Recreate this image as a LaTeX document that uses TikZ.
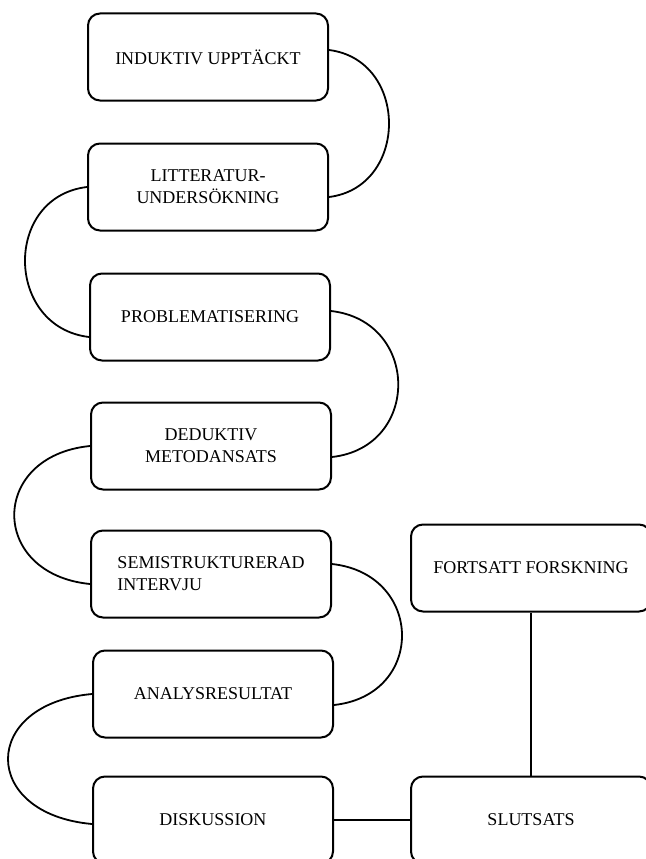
\documentclass[tikz,border=0pt]{standalone}
\usepackage{fontspec}
\setmainfont{Liberation Serif}
\tikzset{
    stage-box/.style = {draw=black, fill=white, line width=2pt, rectangle, rounded corners=12pt, minimum width=240pt, minimum height=87pt, inner sep=0pt, align=center, font=\fontsize{18}{22}\selectfont},
    link/.style = {draw=black, line width=1.8pt},
}

\begin{document}
\begin{tikzpicture}[x=1pt, y=-1pt]
\useasboundingbox (0,0) rectangle (645,859);

\node [stage-box] (induktiv) at (208,57) {INDUKTIV UPPTÄCKT};
\node [stage-box] (litteratur) at (208,187) {LITTERATUR-\\UNDERSÖKNING};
\node [stage-box] (problem) at (210,317) {PROBLEMATISERING};
\node [stage-box] (deduktiv) at (211,446) {DEDUKTIV\\METODANSATS};
\node [stage-box, align=left] (intervju) at (211,574) {SEMISTRUKTURERAD\\INTERVJU};
\node [stage-box] (analys) at (213,694) {ANALYSRESULTAT};
\node [stage-box] (diskussion) at (213,820) {DISKUSSION};
\node [stage-box] (slutsats) at (531,820) {SLUTSATS};
\node [stage-box] (fortsatt) at (531,568) {FORTSATT FORSKNING};

% snake of loops down the left column
\draw [link] ([yshift=7pt]induktiv.east) .. controls +(80,10) and +(80,-10) .. ([yshift=-10pt]litteratur.east);
\draw [link] (litteratur.west) .. controls +(-84,10) and +(-84,-10) .. ([yshift=-20pt]problem.west);
\draw [link] ([yshift=6pt]problem.east) .. controls +(89,10) and +(89,-10) .. ([yshift=-11pt]deduktiv.east);
\draw [link] (deduktiv.west) .. controls +(-101,10) and +(-101,-10) .. ([yshift=-10pt]intervju.west);
\draw [link] ([yshift=10pt]intervju.east) .. controls +(92,10) and +(92,-10) .. ([yshift=-11pt]analys.east);
\draw [link] (analys.west) .. controls +(-112,10) and +(-112,-10) .. ([yshift=-4pt]diskussion.west);

% straight links
\draw [link] (diskussion.east) -- (slutsats.west);
\draw [link] (fortsatt.south) -- (slutsats.north);
\end{tikzpicture}
\end{document}
